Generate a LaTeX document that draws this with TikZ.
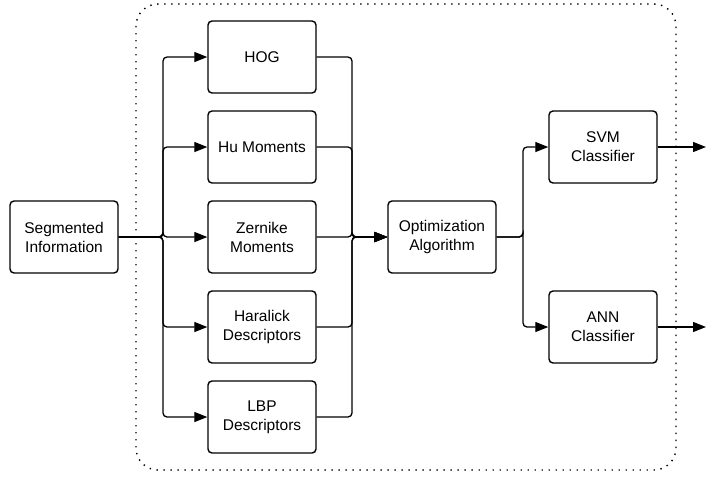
\documentclass[tikz,border=0pt]{standalone}
\usepackage{fontspec}
\setmainfont{Liberation Sans}
\usetikzlibrary{arrows.meta}
\begin{document}
\begin{tikzpicture}[x=1pt,y=-1pt,
  box/.style={draw, line width=1.4pt, rounded corners=4pt, minimum width=108pt, minimum height=72pt,
    align=center, font=\fontsize{15.5}{19}\selectfont, inner sep=0pt},
  conn/.style={line width=1.3pt, rounded corners=4pt},
  arr/.style={conn, -{Triangle[length=13pt,width=10pt]}},
  grp/.style={line width=1.4pt, dash pattern=on 1.4pt off 5.6pt, rounded corners=22pt}]
\useasboundingbox (0,0) rectangle (706,477);
\draw[grp] (136,4) rectangle (676,470);
\node[box] (seg) at (64,237) {Segmented\\Information};
\node[box] (hog) at (262,57) {HOG};
\node[box] (hu) at (262,147) {Hu Moments};
\node[box] (zer) at (262,237) {Zernike\\Moments};
\node[box] (har) at (262,327) {Haralick\\Descriptors};
\node[box] (lbp) at (262,417) {LBP\\Descriptors};
\node[box] (opt) at (442,237) {Optimization\\Algorithm};
\node[box] (svm) at (603,147) {SVM\\Classifier};
\node[box] (ann) at (603,327) {ANN\\Classifier};
\coordinate (svmout) at (706,147);
\coordinate (annout) at (706,327);
\foreach \b in {hog,hu,zer,har,lbp}{
  \draw[arr] (seg.east) -- (163,237) |- (\b.west);
  \draw[arr] (\b.east) -| (352,237) -- (opt.west);
}
\draw[arr] (opt.east) -| (523,237) |- (svm.west);
\draw[arr] (opt.east) -| (523,237) |- (ann.west);
\draw[arr] (svm.east) -- (svmout);
\draw[arr] (ann.east) -- (annout);
\end{tikzpicture}
\end{document}
